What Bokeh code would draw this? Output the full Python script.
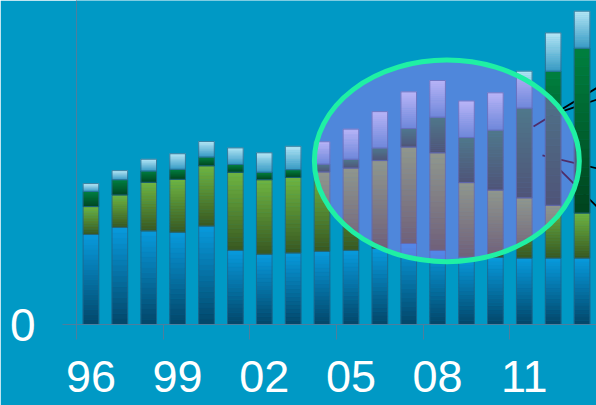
import numpy as np
from bokeh.plotting import figure
from bokeh.models import LinearAxis, FixedTicker, Range1d
from bokeh.embed import file_html
from bokeh.resources import INLINE

# ---------------- data ----------------
years = ["96", "97", "98", "99", "00", "01", "02", "03", "04",
         "05", "06", "07", "08", "09", "10", "11", "12", "13"]
tick_labels = ["96", "99", "02", "05", "08", "11"]

blue = [27.8, 30.0, 28.9, 28.5, 30.4, 22.9, 21.7, 22.1, 22.6,
        22.9, 23.5, 25.0, 22.9, 20.8, 20.7, 20.5, 20.5, 20.5]
olive = [8.6, 10.0, 15.0, 16.3, 18.6, 24.1, 23.0, 23.3, 24.5,
         25.4, 27.1, 29.8, 30.1, 23.0, 20.8, 18.6, 16.3, 13.9]
dark_green = [4.7, 4.7, 3.5, 3.1, 2.7, 2.4, 2.3, 2.4, 2.4,
              2.7, 3.9, 5.7, 11.0, 13.9, 18.5, 27.7, 41.4, 50.9]
light = [2.4, 2.8, 3.6, 4.8, 4.8, 5.1, 6.0, 7.2, 6.9,
         9.3, 11.2, 11.3, 11.3, 11.3, 11.5, 11.4, 11.8, 11.4]

# highlight ellipse (data units) and callout lines
ellipse_x, ellipse_y, ellipse_w, ellipse_h = 12.32, 50.5, 9.17, 62.2
callout_x0 = [15.32, 16.29, 15.63, 16.15]
callout_y0 = [61.1, 65.7, 52.2, 48.5]
callout_x1 = [17.6, 17.6, 17.6, 17.6]
callout_y1 = [73.5, 69.7, 48.0, 35.6]

# ---------------- style ----------------
BG = "#0099c5"
AXIS = "#4d7e9e"
FONT = "Liberation Sans"
BAR_W = 0.54
N = 18

seg_colors = [  # (bottom colour, top colour)
    ("#03486b", "#0898da"),
    ("#3a5a22", "#6db241"),
    ("#00451f", "#007e3e"),
    ("#3a9cc5", "#b2e4f4"),
]


def hex2rgb(h):
    return np.array([int(h[i:i + 2], 16) for i in (1, 3, 5)], float)


def grad(c0, c1, n):
    a, b = hex2rgb(c0), hex2rgb(c1)
    return ["#%02x%02x%02x" % tuple(np.round(a + (b - a) * t).astype(int))
            for t in np.linspace(0, 1, n)]


p = figure(width=596, height=405,
           x_range=Range1d(-0.5, 17.5), y_range=Range1d(0, 100),
           output_backend="svg", toolbar_location=None,
           x_axis_location=None, y_axis_location=None,
           min_border_left=76, min_border_right=0, min_border_top=0,
           min_border_bottom=81,
           background_fill_color=BG, border_fill_color=BG,
           outline_line_color=None)
p.xgrid.visible = False
p.ygrid.visible = False

x = np.arange(len(years), dtype=float)

# callout lines (behind the bars)
p.segment(x0=callout_x0, y0=callout_y0, x1=callout_x1, y1=callout_y1,
          line_color="black", line_width=1.8)

# stacked gradient bars
series = [np.array(blue), np.array(olive), np.array(dark_green), np.array(light)]
base = np.zeros(len(years))
for vals, (c0, c1) in zip(series, seg_colors):
    top = base + vals
    cols = grad(c0, c1, N)
    xs, bs, ts, cs = [], [], [], []
    for k in range(N):
        b_k = base + vals * k / N
        t_k = base + vals * (k + 1) / N
        xs.extend(x)
        bs.extend(b_k)
        ts.extend(t_k)
        cs.extend([cols[k]] * len(x))
    p.vbar(x=xs, bottom=bs, top=ts, width=BAR_W,
           fill_color=cs, line_color=cs, line_width=0.6)
    p.vbar(x=x, bottom=base, top=top, width=BAR_W,
           fill_color=None, line_color="#22688c", line_width=1, line_alpha=0.8)
    base = top

# highlight ellipse
p.ellipse(x=[ellipse_x], y=[ellipse_y], width=[ellipse_w], height=[ellipse_h],
          fill_color="#c16efb", fill_alpha=0.41,
          line_color="#1ff0a4", line_width=5)

# ---------------- axes ----------------
yax = LinearAxis(ticker=FixedTicker(ticks=[0]))
yax.axis_line_color = AXIS
yax.major_tick_line_color = AXIS
yax.major_tick_out = 14
yax.major_tick_in = 0
yax.minor_tick_line_color = None
yax.major_label_text_font = FONT
yax.major_label_text_font_size = "46px"
yax.major_label_text_color = "white"
yax.major_label_standoff = 27
p.add_layout(yax, "left")

x_tick_axis = LinearAxis(ticker=FixedTicker(ticks=[-0.5, 2.5, 5.5, 8.5, 11.5, 14.5, 17.5]))
x_tick_axis.axis_line_color = AXIS
x_tick_axis.major_tick_line_color = AXIS
x_tick_axis.major_tick_out = 15
x_tick_axis.major_tick_in = 0
x_tick_axis.minor_tick_line_color = None
x_tick_axis.major_label_text_font_size = "0px"
x_tick_axis.major_label_standoff = 0
x_tick_axis.major_label_overrides = {t: "" for t in [-0.5, 2.5, 5.5, 8.5, 11.5, 14.5, 17.5]}
p.add_layout(x_tick_axis, "below")

label_pos = [float(years.index(t)) for t in tick_labels]
x_lab_axis = LinearAxis(ticker=FixedTicker(ticks=label_pos))
x_lab_axis.major_label_overrides = {pos: lab for pos, lab in zip(label_pos, tick_labels)}
x_lab_axis.axis_line_color = None
x_lab_axis.major_tick_line_color = None
x_lab_axis.minor_tick_line_color = None
x_lab_axis.major_tick_out = 0
x_lab_axis.major_tick_in = 0
x_lab_axis.major_label_text_font = FONT
x_lab_axis.major_label_text_font_size = "45px"
x_lab_axis.major_label_text_color = "white"
x_lab_axis.major_label_standoff = 21
p.add_layout(x_lab_axis, "below")

open("out.html", "w").write(file_html(p, INLINE))
